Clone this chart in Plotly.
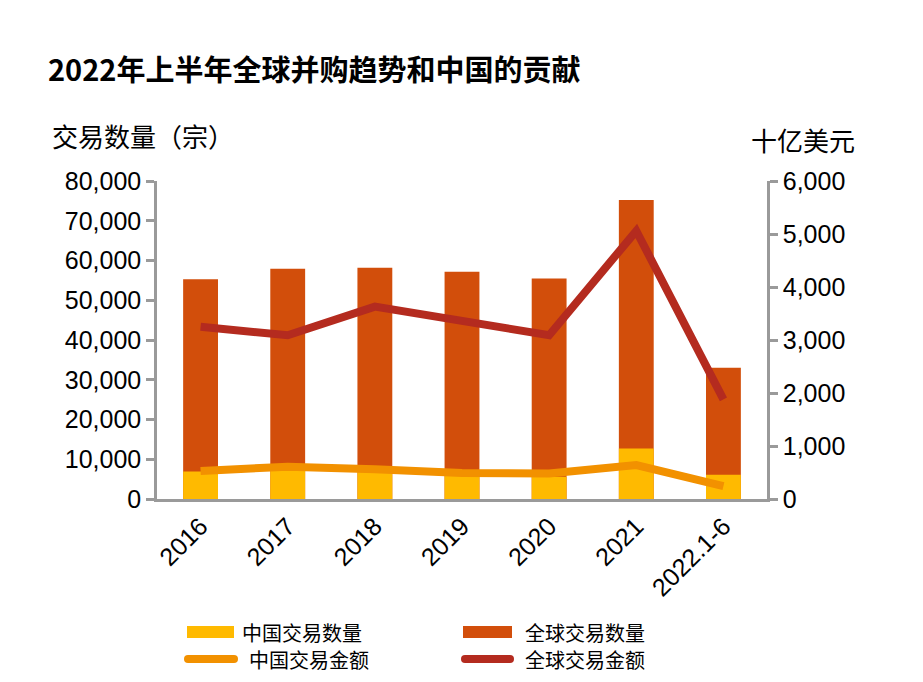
import plotly.graph_objects as go

categories = ["2016", "2017", "2018", "2019", "2020", "2021", "2022.1-6"]
china_count = [6900, 8500, 7600, 5800, 5600, 12700, 6100]
global_count = [55300, 57900, 58200, 57200, 55500, 75200, 33000]
china_value = [530, 610, 560, 490, 480, 640, 245]
global_value = [3250, 3090, 3630, 3360, 3090, 5060, 1880]

left_ticks = [0, 10000, 20000, 30000, 40000, 50000, 60000, 70000, 80000]
right_ticks = [0, 1000, 2000, 3000, 4000, 5000, 6000]

FONT = "Liberation Sans, Arial, Noto Sans CJK SC, sans-serif"
CJK = "Noto Sans CJK SC, sans-serif"
AX = "#9a9a9a"
C_CN_BAR = "#FFBA00"
C_GL_BAR = "#D24E0B"
C_CN_LINE = "#F29100"
C_GL_LINE = "#B42B1F"

OFF = 8  # page body margin
W, H = 923 - OFF, 682 - OFF
L, T = 157 - OFF, 181 - OFF
PW, PH = 610, 318
R, B = W - L - PW, H - T - PH


def px(x):
    return (x - OFF - L) / PW


def py(y):
    return (T + PH - (y - OFF)) / PH


fig = go.Figure()
fig.add_trace(go.Bar(x=categories, y=global_count, name="全球交易数量",
                     marker=dict(color=C_GL_BAR, line=dict(width=0)), width=0.4))
fig.add_trace(go.Bar(x=categories, y=china_count, name="中国交易数量",
                     marker=dict(color=C_CN_BAR, line=dict(width=0)), width=0.4))
fig.add_trace(go.Scatter(x=categories, y=china_value, name="中国交易金额", yaxis="y2",
                         mode="lines", line=dict(color=C_CN_LINE, width=8)))
fig.add_trace(go.Scatter(x=categories, y=global_value, name="全球交易金额", yaxis="y2",
                         mode="lines", line=dict(color=C_GL_LINE, width=8)))

# legend (drawn as decorations)
legend_items = [
    ("中国交易数量", "bar", C_CN_BAR, 187, 234, 632, 240),
    ("全球交易数量", "bar", C_GL_BAR, 463, 512, 632, 523),
    ("中国交易金额", "line", C_CN_LINE, 184, 238, 659, 247),
    ("全球交易金额", "line", C_GL_LINE, 461, 514, 659, 523),
]
shapes = []
annotations = []
for label, kind, color, x0, x1, yc, tx in legend_items:
    if kind == "bar":
        shapes.append(dict(type="rect", xref="paper", yref="paper",
                           x0=px(x0), x1=px(x1), y0=py(yc + 6), y1=py(yc - 6),
                           fillcolor=color, line=dict(width=0)))
    else:
        shapes.append(dict(type="line", xref="paper", yref="paper",
                           x0=px(x0 + 4), x1=px(x1 - 4), y0=py(yc), y1=py(yc),
                           line=dict(color=color, width=8)))
        for cx in (x0 + 4, x1 - 4):
            shapes.append(dict(type="circle", xref="paper", yref="paper",
                               x0=px(cx - 4), x1=px(cx + 4), y0=py(yc + 4), y1=py(yc - 4),
                               fillcolor=color, line=dict(width=0)))
    annotations.append(dict(text=label, xref="paper", yref="paper", x=px(tx), y=py(yc),
                            xanchor="left", yanchor="middle", showarrow=False,
                            font=dict(family=CJK, size=20, color="#000")))

annotations += [
    dict(text="交易数量（宗）", xref="paper", yref="paper", x=px(50), y=py(136),
         xanchor="left", yanchor="middle", showarrow=False,
         font=dict(family=CJK, size=26, color="#000")),
    dict(text="十亿美元", xref="paper", yref="paper", x=px(857), y=py(140),
         xanchor="right", yanchor="middle", showarrow=False,
         font=dict(family=CJK, size=26, color="#000")),
]

fig.update_layout(
    width=W, height=H,
    margin=dict(l=L, r=R, t=T, b=B, autoexpand=False),
    paper_bgcolor="white", plot_bgcolor="white",
    barmode="overlay",
    showlegend=False,
    font=dict(family=FONT, size=22, color="#000"),
    title=dict(text="<b>2022年上半年全球并购趋势和中国的贡献</b>",
               xref="container", yref="container", x=(48 - OFF)/W, y=1-(71 - OFF)/H,
               xanchor="left", yanchor="middle",
               font=dict(family=CJK, size=29, color="#000")),
    xaxis=dict(showline=True, linecolor=AX, linewidth=2.5, ticks="", tickangle=-45,
               tickfont=dict(size=25), showgrid=False, zeroline=False, automargin=False),
    yaxis=dict(range=[0, 80000], tickvals=left_ticks, tickformat=",d",
               showline=True, linecolor=AX, linewidth=2.5, ticks="outside",
               tickcolor=AX, ticklen=8, tickwidth=2.5, showgrid=False, zeroline=False,
               tickfont=dict(size=25), automargin=False),
    yaxis2=dict(range=[0, 6000], tickvals=right_ticks, tickformat=",d", overlaying="y",
                side="right", showline=True, linecolor=AX, linewidth=2.5, ticks="outside",
                tickcolor=AX, ticklen=8, tickwidth=2.5, showgrid=False, zeroline=False,
                tickfont=dict(size=25), automargin=False),
    shapes=shapes,
    annotations=annotations,
)

fig.write_html("out.html")
